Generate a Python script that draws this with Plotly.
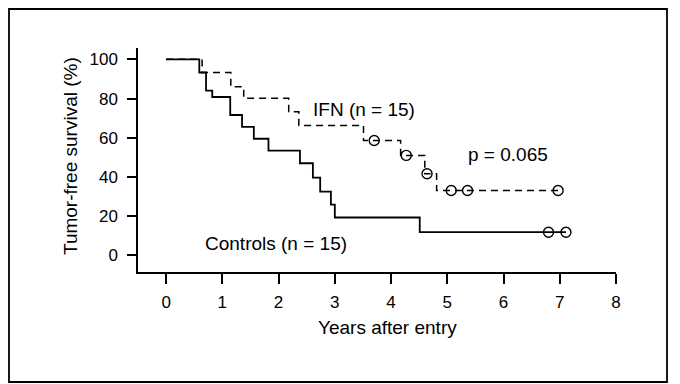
import plotly.graph_objects as go

# Kaplan-Meier style step data
ctrl_t = [0, 0.59, 0.71, 0.82, 1.14, 1.35, 1.56, 1.82, 2.38, 2.61, 2.74, 2.93, 3.0, 4.51, 7.11]
ctrl_s = [100, 93.3, 84.0, 80.8, 71.6, 65.6, 59.5, 53.4, 47.0, 39.7, 32.5, 25.9, 19.3, 11.8, 11.8]
ctrl_cens_t = [6.80, 7.11]
ctrl_cens_s = [11.8, 11.8]

ifn_t = [0, 0.64, 1.15, 1.38, 2.18, 2.36, 3.51, 4.17, 4.60, 4.81, 6.97]
ifn_s = [100, 93.3, 86.0, 80.1, 73.3, 66.3, 58.6, 51.0, 41.6, 33.1, 33.1]
ifn_cens_t = [3.70, 4.27, 4.64, 5.07, 5.36, 6.97]
ifn_cens_s = [58.6, 51.0, 41.6, 33.1, 33.1, 33.1]

x_ticks = [0, 1, 2, 3, 4, 5, 6, 7, 8]
y_ticks = [0, 20, 40, 60, 80, 100]

FONT = "Liberation Sans, Arial, Helvetica, sans-serif"

fig = go.Figure()
fig.add_trace(go.Scatter(x=ctrl_t, y=ctrl_s, mode="lines", line=dict(color="black", width=1.8, shape="hv"),
                         showlegend=False, hoverinfo="skip"))
fig.add_trace(go.Scatter(x=ifn_t, y=ifn_s, mode="lines",
                         line=dict(color="black", width=1.5, shape="hv", dash="7px,5px"),
                         showlegend=False, hoverinfo="skip"))
fig.add_trace(go.Scatter(x=ctrl_cens_t, y=ctrl_cens_s, mode="markers",
                         marker=dict(symbol="circle-open", size=10, color="black", line=dict(width=1.4)),
                         showlegend=False, hoverinfo="skip"))
fig.add_trace(go.Scatter(x=ifn_cens_t, y=ifn_cens_s, mode="markers",
                         marker=dict(symbol="circle-open", size=10, color="black", line=dict(width=1.4)),
                         showlegend=False, hoverinfo="skip"))

W, H = 680, 384
L, R, T, B = 138, 616, 48, 272

def px(x):
    return (x - L) / (R - L)

def py(y):
    return (B - y) / (B - T)

fig.update_layout(
    width=W, height=H,
    margin=dict(l=L, r=W - R, t=T, b=H - B),
    paper_bgcolor="white", plot_bgcolor="white",
    font=dict(family=FONT, color="black", size=17),
    xaxis=dict(range=[-0.5, 8.0], tickvals=x_ticks, showline=True, linecolor="black", linewidth=1.5,
               ticks="outside", ticklen=10, tickwidth=1.5, tickcolor="black", showgrid=False,
               zeroline=False, tickfont=dict(size=17), ticklabelstandoff=4),
    yaxis=dict(range=[-8.5, 105.8], tickvals=y_ticks, showline=True, linecolor="black", linewidth=1.5,
               ticks="outside", ticklen=9, tickwidth=1.5, tickcolor="black", showgrid=False,
               zeroline=False, tickfont=dict(size=17), ticklabelstandoff=6),
    annotations=[
        dict(text="Tumor-free survival (%)", xref="paper", yref="paper", x=px(70), y=py(156),
             textangle=-90, showarrow=False, font=dict(size=19), xanchor="center", yanchor="middle"),
        dict(text="Years after entry", xref="paper", yref="paper", x=px(387), y=py(327),
             showarrow=False, font=dict(size=19), xanchor="center", yanchor="middle"),
        dict(text="IFN (n = 15)", x=3.51, y=74.6, showarrow=False, font=dict(size=19)),
        dict(text="Controls (n = 15)", x=1.96, y=6.3, showarrow=False, font=dict(size=19)),
        dict(text="p = 0.065", x=6.08, y=51.7, showarrow=False, font=dict(size=19)),
    ],
    shapes=[
        dict(type="rect", xref="paper", yref="paper", x0=px(9), x1=px(667), y0=py(382), y1=py(9),
             line=dict(color="black", width=1.8), fillcolor="rgba(0,0,0,0)", layer="below"),
    ],
)

fig.write_html("out.html")
